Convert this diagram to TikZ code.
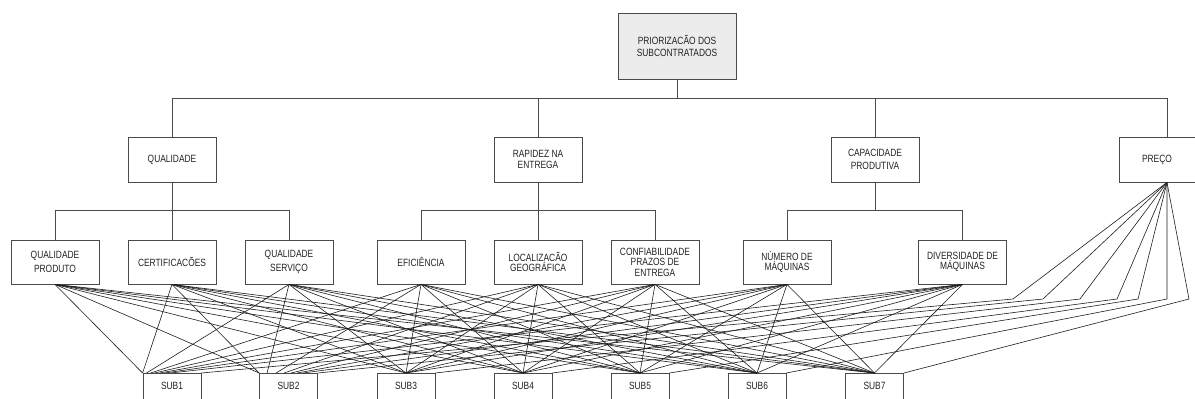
\documentclass[tikz,border=0pt]{standalone}
\usepackage{fontspec}
\setmainfont{Liberation Sans}[FakeStretch=0.8]
\definecolor{boxline}{HTML}{4A4A4A}
\definecolor{linkline}{HTML}{1E1E1E}
\definecolor{topfill}{HTML}{ECECEC}
\definecolor{txt}{HTML}{222222}
\tikzset{
  box/.style={draw=boxline, line width=0.8pt, minimum width=88pt, minimum height=44pt,
    inner sep=0pt, align=center, text=txt, font=\fontsize{10.5}{13}\selectfont},
  tight/.style={font=\fontsize{10.5}{10.5}\selectfont},
  subbox/.style={draw=boxline, line width=0.8pt, anchor=north, minimum width=58pt,
    inner xsep=0pt, inner ysep=4pt, text height=12pt, text depth=30pt, text=txt,
    font=\fontsize{10.5}{13}\selectfont},
  tree/.style={draw=boxline, line width=0.8pt},
  link/.style={draw=linkline, line width=0.6pt}
}
\begin{document}
\begin{tikzpicture}[x=1pt,y=-1pt]
\clip (0,0) rectangle (1195,399);
\fill[white] (0,0) rectangle (1195,399);

% root
\node[box, fill=topfill, minimum width=118pt, minimum height=66pt, font=\fontsize{10.5}{12}\selectfont]
  (top) at (677,46) {PRIORIZACÃO DOS\\SUBCONTRATADOS};

% main criteria
\node[box, minimum height=45pt] (q)  at (172,159.5) {QUALIDADE};
\node[box, minimum height=45pt, font=\fontsize{10.5}{11.5}\selectfont] (r)  at (538,159.5) {RAPIDEZ NA\\ENTREGA};
\node[box, minimum height=45pt] (cp) at (875,159.5) {CAPACIDADE\\PRODUTIVA};
\node[box, minimum height=45pt, minimum width=76pt] (pr) at (1157,159.5) {PREÇO};

% sub-criteria
\node[box, font=\fontsize{10.5}{14}\selectfont] (c1) at (55,262)  {QUALIDADE\\PRODUTO};
\node[box] (c2) at (172,262) {CERTIFICACÕES};
\node[box, font=\fontsize{10.5}{14}\selectfont] (c3) at (289,262) {QUALIDADE\\SERVIÇO};
\node[box] (c4) at (421,262) {EFICIÊNCIA};
\node[box, tight] (c5) at (538,262) {LOCALIZACÃO\\GEOGRÁFICA};
\node[box, tight] (c6) at (655,262) {CONFIABILIDADE\\PRAZOS DE\\ENTREGA};
\node[box, tight] (c7) at (787,262) {NÚMERO DE\\MÁQUINAS};
\node[box, tight] (c8) at (962.5,262) {DIVERSIDADE DE\\MÁQUINAS};

% subcontractors
\node[subbox] (s1) at (172,373)   {SUB1};
\node[subbox] (s2) at (288.5,373) {SUB2};
\node[subbox] (s3) at (406,373)   {SUB3};
\node[subbox] (s4) at (523,373)   {SUB4};
\node[subbox] (s5) at (640,373)   {SUB5};
\node[subbox] (s6) at (757,373)   {SUB6};
\node[subbox] (s7) at (874.5,373) {SUB7};

% hierarchy
\draw[tree] (top.south) -- ++(0,20);
\draw[tree] (q.north) -- ++(0,-38) -| ([xshift=10pt]pr.north);
\draw[tree] (r.north) -- ++(0,-38);
\draw[tree] (cp.north) -- ++(0,-38);

\draw[tree] (q.south) -- (c2.north);
\draw[tree] (c1.north) -- ++(0,-29) -| (c3.north);
\draw[tree] (r.south) -- (c5.north);
\draw[tree] (c4.north) -- ++(0,-29) -| (c6.north);
\draw[tree] (cp.south) -- ++(0,29);
\draw[tree] (c7.north) -- ++(0,-29) -| (c8.north);

% every sub-criterion to every subcontractor
\foreach \c in {1,...,8}
  \foreach \s in {3,...,7}
    \draw[link] (c\c.south) -- (s\s.north);
\foreach \c/\d in {1/0,2/0,3/4,4/8,5/12,6/17,7/22,8/28}
  \draw[link] (c\c.south) -- ([xshift=\d pt]s1.north west);
\foreach \c/\d in {1/0,2/0,3/8,4/17,5/25,6/32,7/38,8/44}
  \draw[link] (c\c.south) -- ([xshift=\d pt]s2.north west);

% price to every subcontractor
\coordinate (pb) at ([xshift=10pt]pr.south);
\foreach \s/\x in {1/1013,2/1043,3/1080,4/1117,5/1138,6/1167,7/1189}
  \draw[link] (pb) -- (\x,299) -- (s\s.north east);
\end{tikzpicture}
\end{document}
